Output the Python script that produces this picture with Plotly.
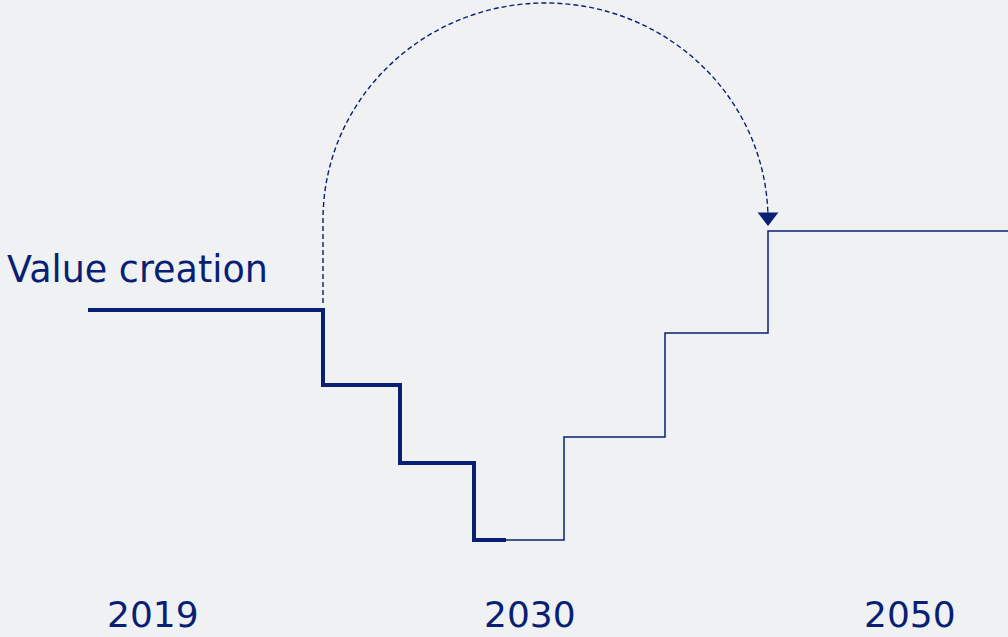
import plotly.graph_objects as go

NAVY = "#081f73"
BG = "#eff1f3"
FONT = "DejaVu Sans"

# Declining phase (thick step line)
decline_x = [88, 323, 400, 474, 506]
decline_y = [327, 252, 174, 97, 97]

# Recovery phase (thin step line)
recovery_x = [506, 564, 665, 768, 1008]
recovery_y = [97, 200, 304, 406, 406]

# Timeline labels
year_labels = ["2019", "2030", "2050"]
year_positions = [153, 530, 910]

series_label = "Value creation"

fig = go.Figure()

fig.add_trace(go.Scatter(
    x=decline_x, y=decline_y, mode="lines", line_shape="hv",
    line=dict(color=NAVY, width=4), hoverinfo="skip", showlegend=False))

fig.add_trace(go.Scatter(
    x=recovery_x, y=recovery_y, mode="lines", line_shape="hv",
    line=dict(color=NAVY, width=1.5), hoverinfo="skip", showlegend=False))

# Dashed arc connector: vertical rise then half-ellipse, ending above the last step
x0, x1 = 323, 768
start_y, end_y = 334, 425
cy = 417
cx = (x0 + x1) / 2
rx = (x1 - x0) / 2
ry = 217
k = 0.5523
path = (f"M {x0},{start_y} L {x0},{cy} "
        f"C {x0},{cy + k*ry} {cx - k*rx},{cy + ry} {cx},{cy + ry} "
        f"C {cx + k*rx},{cy + ry} {x1},{cy + k*ry} {x1},{cy} "
        f"L {x1},{end_y}")
fig.add_shape(type="path", path=path, xref="x", yref="y",
              line=dict(color=NAVY, width=1.4, dash="5px,3px"))

# Arrow head
fig.add_trace(go.Scatter(
    x=[x1], y=[420], mode="markers",
    marker=dict(symbol="triangle-down", size=18, color=NAVY),
    hoverinfo="skip", showlegend=False))

fig.add_annotation(x=5, y=368, xref="x", yref="y", text=series_label,
                   showarrow=False, xanchor="left", yanchor="middle",
                   font=dict(family=FONT, size=36.5, color=NAVY))

for lab, pos in zip(year_labels, year_positions):
    fig.add_annotation(x=pos, y=23, xref="x", yref="y", text=lab,
                       showarrow=False, xanchor="center", yanchor="middle",
                       font=dict(family=FONT, size=36, color=NAVY))

fig.update_layout(
    width=1008, height=637,
    margin=dict(l=0, r=0, t=0, b=0),
    paper_bgcolor=BG, plot_bgcolor=BG,
    xaxis=dict(range=[0, 1008], visible=False, fixedrange=True),
    yaxis=dict(range=[0, 637], visible=False, fixedrange=True),
)

fig.write_html(
    "out.html",
    config={"displayModeBar": False},
    post_script=(
        "document.body.style.margin='0';"
        "document.body.style.overflow='hidden';"
        f"document.body.style.background='{BG}';"
    ),
)
